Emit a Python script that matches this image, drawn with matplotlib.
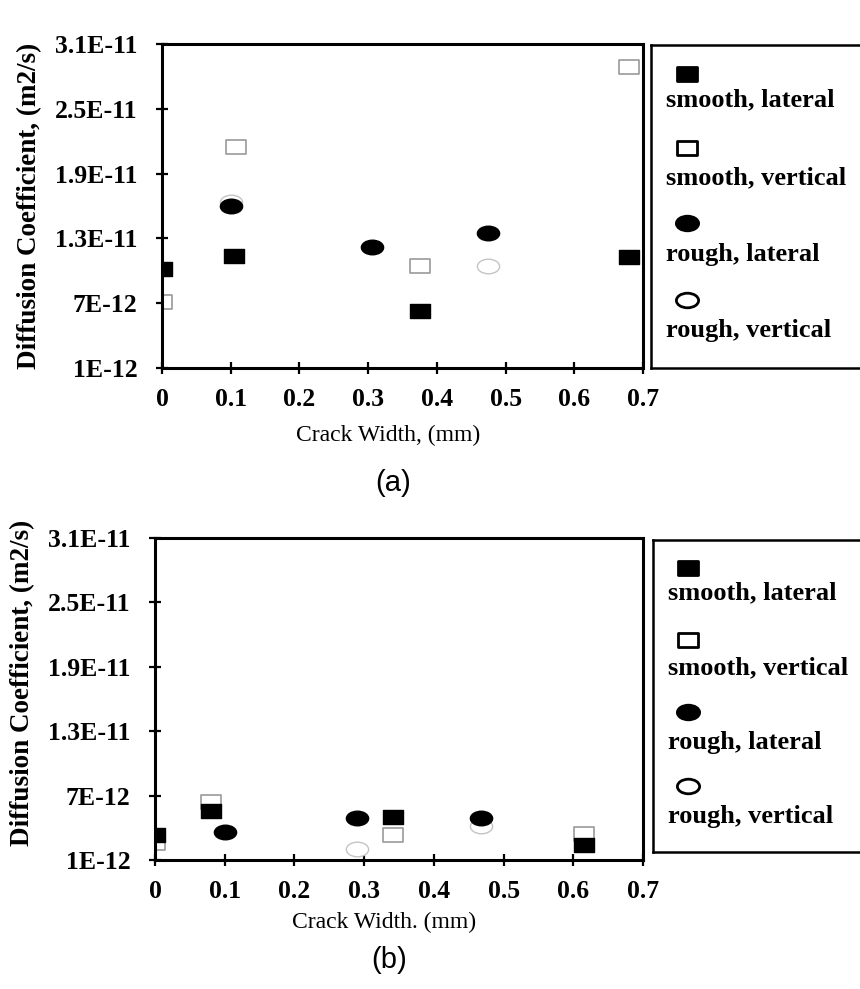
import matplotlib.pyplot as plt
from matplotlib.path import Path
from matplotlib.transforms import Affine2D
import numpy as np

# panel (a): crack widths (mm) and diffusion coefficients (m2/s)
sl_x_a = [0.0, 0.105, 0.375, 0.68]
sl_y_a = [10.2e-12, 11.4e-12, 6.3e-12, 11.3e-12]
sv_x_a = [0.0, 0.108, 0.375, 0.68]
sv_y_a = [7.1e-12, 21.5e-12, 10.4e-12, 28.9e-12]
rl_x_a = [0.1, 0.305, 0.475]
rl_y_a = [16.0e-12, 12.2e-12, 13.5e-12]
rv_x_a = [0.1, 0.475]
rv_y_a = [16.4e-12, 10.4e-12]

# panel (b)
sl_x_b = [0.0, 0.08, 0.342, 0.615]
sl_y_b = [3.3e-12, 5.6e-12, 5.0e-12, 2.4e-12]
sv_x_b = [0.0, 0.08, 0.342, 0.615]
sv_y_b = [2.6e-12, 6.4e-12, 3.3e-12, 3.4e-12]
rl_x_b = [0.1, 0.29, 0.468]
rl_y_b = [3.6e-12, 4.9e-12, 4.9e-12]
rv_x_b = [0.29, 0.468]
rv_y_b = [2.0e-12, 4.2e-12]

x_ticks = [0, 0.1, 0.2, 0.3, 0.4, 0.5, 0.6, 0.7]
x_labels = ['0', '0.1', '0.2', '0.3', '0.4', '0.5', '0.6', '0.7']
y_ticks = [1e-12, 7e-12, 1.3e-11, 1.9e-11, 2.5e-11, 3.1e-11]
y_labels = ['1E-12', '7E-12', '1.3E-11', '1.9E-11', '2.5E-11', '3.1E-11']
legend_names = ['smooth, lateral', 'smooth, vertical', 'rough, lateral', 'rough, vertical']

SERIF = ['Liberation Serif', 'DejaVu Serif']
W, H = 860, 989

# wide rectangle and ellipse markers, like the original
rect = Path([(-1.5, -1), (1.5, -1), (1.5, 1), (-1.5, 1), (-1.5, -1)],
            [Path.MOVETO, Path.LINETO, Path.LINETO, Path.LINETO, Path.CLOSEPOLY])
ellipse = Path.unit_circle().transformed(Affine2D().scale(1.6, 1.05))


def px_axes(fig, x0, x1, y0, y1):
    return fig.add_axes([x0 / W, 1 - y1 / H, (x1 - x0) / W, (y1 - y0) / H])


def panel(ax, sl, sv, rl, rv, tag, xlab, tag_y, xlab_y, ylab_xy):
    ax.plot(sv[0], sv[1], ls='none', marker=rect, ms=15, mfc='white', mec='#9a9a9a', mew=1.2)
    ax.plot(rv[0], rv[1], ls='none', marker=ellipse, ms=16, mfc='white', mec='#c4c4c4', mew=1.0)
    ax.plot(sl[0], sl[1], ls='none', marker=rect, ms=15, mfc='black', mec='black')
    ax.plot(rl[0], rl[1], ls='none', marker=ellipse, ms=16, mfc='black', mec='black')
    ax.set_xlim(0, 0.7)
    ax.set_ylim(1e-12, 3.1e-11)
    ax.set_xticks(x_ticks)
    ax.set_xticklabels(x_labels, family=SERIF, fontsize=18.5, fontweight='bold')
    ax.set_yticks(y_ticks)
    ax.set_yticklabels(y_labels, family=SERIF, fontsize=18.5, fontweight='bold')
    ax.tick_params(direction='inout', length=9, width=1.6)
    ax.tick_params(axis='y', pad=13)
    ax.tick_params(axis='x', pad=10)
    for s in ax.spines.values():
        s.set_linewidth(2.2)
    ax.set_ylabel('Diffusion Coefficient, (m2/s)', family=SERIF, fontsize=19.5, fontweight='bold')
    ax.yaxis.set_label_coords(*ylab_xy)
    ax.set_xlabel(xlab, family=SERIF, fontsize=17)
    ax.xaxis.set_label_coords(0.47, xlab_y)
    ax.text(0.48, tag_y, tag, transform=ax.transAxes, ha='center', va='center',
            family=['Liberation Sans', 'DejaVu Sans'], fontsize=21)


def legend_box(lax):
    lax.set_xlim(0, 1)
    lax.set_ylim(1, 0)
    lax.set_xticks([])
    lax.set_yticks([])
    lax.spines['right'].set_visible(False)
    for s in ['left', 'top', 'bottom']:
        lax.spines[s].set_linewidth(1.8)
    mk_y = [0.09, 0.32, 0.55, 0.79]
    tx_y = [0.17, 0.41, 0.65, 0.885]
    styles = [(rect, 'black', 15), (rect, 'white', 15), (ellipse, 'black', 16), (ellipse, 'white', 16)]
    for (m, fc, ms), my, ty, name in zip(styles, mk_y, tx_y, legend_names):
        lax.plot([0.17], [my], ls='none', marker=m, ms=ms, mfc=fc, mec='black', mew=2)
        lax.text(0.07, ty, name, family=SERIF, fontsize=19, fontweight='bold', va='center', ha='left')


fig = plt.figure(figsize=(W / 100, H / 100), dpi=100)

ax_a = px_axes(fig, 162, 643, 44, 368)
panel(ax_a, (sl_x_a, sl_y_a), (sv_x_a, sv_y_a), (rl_x_a, rl_y_a), (rv_x_a, rv_y_a),
      '(a)', 'Crack Width, (mm)', -0.355, -0.175, (-0.25, 0.5))
legend_box(px_axes(fig, 651, 861, 45, 368))

ax_b = px_axes(fig, 155, 643, 538, 860)
panel(ax_b, (sl_x_b, sl_y_b), (sv_x_b, sv_y_b), (rl_x_b, rl_y_b), (rv_x_b, rv_y_b),
      '(b)', 'Crack Width. (mm)', -0.31, -0.16, (-0.246, 0.55))
legend_box(px_axes(fig, 653, 861, 540, 852))

fig.savefig('out.png', dpi=100)
